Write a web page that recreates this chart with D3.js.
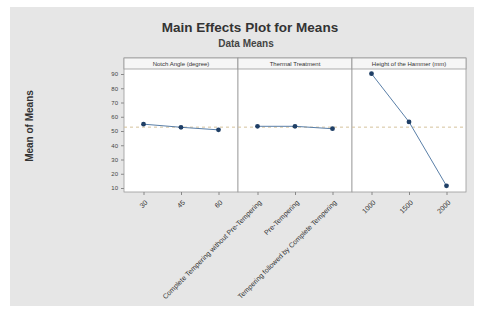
<!DOCTYPE html>
<html><head><meta charset="utf-8">
<script src="https://cdn.jsdelivr.net/npm/d3@7"></script>
<style>body{margin:0;background:#fff}svg{display:block;font-family:"Liberation Sans",Arial,sans-serif}</style>
</head><body>
<svg id="c" width="478" height="312"></svg>
<script>
const factors = ["Notch Angle (degree)", "Thermal Treatment", "Height of the Hammer (mm)"];
const notchLevels = ["30", "45", "60"];
const notchMeans = [54.8, 52.6, 50.8];
const thermalLevels = ["Complete Tempering without Pre-Tempering", "Pre-Tempering", "Tempering followed by Complete Tempering"];
const thermalMeans = [53.3, 53.3, 51.6];
const heightLevels = ["1000", "1500", "2000"];
const heightMeans = [90.2, 56.4, 11.5];
const grandMean = 52.7;
const yTicks = [10, 20, 30, 40, 50, 60, 70, 80, 90];

const panels = [
  {name: factors[0], levels: notchLevels, means: notchMeans},
  {name: factors[1], levels: thermalLevels, means: thermalMeans},
  {name: factors[2], levels: heightLevels, means: heightMeans}
];

const svg = d3.select("#c");
svg.append("rect").attr("x",10).attr("y",7).attr("width",464).attr("height",299).attr("fill","#e6e6e6");

svg.append("text").attr("x",250).attr("y",32).attr("text-anchor","middle")
  .attr("font-size",13.5).attr("font-weight","bold").attr("fill","#333").text("Main Effects Plot for Means");
svg.append("text").attr("x",246).attr("y",47).attr("text-anchor","middle")
  .attr("font-size",10).attr("font-weight","bold").attr("fill","#444").text("Data Means");
svg.append("text").attr("transform","translate(33,126) rotate(-90)").attr("text-anchor","middle")
  .attr("font-size",10).attr("font-weight","bold").attr("fill","#333").text("Mean of Means");

const pLeft = 124, pRight = 466, pTop = 58, headH = 11, pBottom = 192;
const pw = (pRight-pLeft)/3;
const y = d3.scaleLinear().domain([90,10]).range([74,188]);

const yAxis = d3.axisLeft(y).tickValues(yTicks).tickSize(3).tickPadding(3);
const ga = svg.append("g").attr("transform",`translate(${pLeft},0)`).call(yAxis);
ga.select(".domain").remove();
ga.selectAll("line").attr("stroke","#888");
ga.selectAll("text").attr("font-size",6).attr("fill","#444").attr("font-family","Liberation Sans, Arial");

panels.forEach((p,i)=>{
  const x0 = pLeft + i*pw;
  const g = svg.append("g");
  g.append("rect").attr("x",x0).attr("y",pTop).attr("width",pw).attr("height",pBottom-pTop)
    .attr("fill","#fff").attr("stroke","#9a9a9a").attr("stroke-width",0.8);
  g.append("rect").attr("x",x0).attr("y",pTop).attr("width",pw).attr("height",headH)
    .attr("fill","#f6f6f6").attr("stroke","#9a9a9a").attr("stroke-width",0.8);
  g.append("text").attr("x",x0+pw/2).attr("y",pTop+8).attr("text-anchor","middle")
    .attr("font-size",6).attr("fill","#333").text(p.name);
  const x = d3.scalePoint().domain(p.levels).range([x0,x0+pw]).padding(0.52);
  g.append("line").attr("x1",x0).attr("x2",x0+pw).attr("y1",y(grandMean)).attr("y2",y(grandMean))
    .attr("stroke","#d6c29c").attr("stroke-width",1).attr("stroke-dasharray","3,3");
  const line = d3.line().x((d,j)=>x(p.levels[j])).y(d=>y(d));
  g.append("path").datum(p.means).attr("d",line).attr("fill","none").attr("stroke","#5a7fa8").attr("stroke-width",1);
  g.selectAll("circle").data(p.means).join("circle")
    .attr("cx",(d,j)=>x(p.levels[j])).attr("cy",d=>y(d)).attr("r",2.4).attr("fill","#1f3f66");
  const xAxis = d3.axisBottom(x).tickSize(3).tickPadding(2);
  const gx = g.append("g").attr("transform",`translate(0,${pBottom})`).call(xAxis);
  gx.select(".domain").remove();
  gx.selectAll("line").attr("stroke","#888");
  gx.selectAll("text").attr("font-size",7).attr("fill","#333").attr("font-family","Liberation Sans, Arial")
    .attr("text-anchor","end").attr("dy","0.3em")
    .attr("transform","translate(-1,6) rotate(-45)");
});
</script>
</body></html>
